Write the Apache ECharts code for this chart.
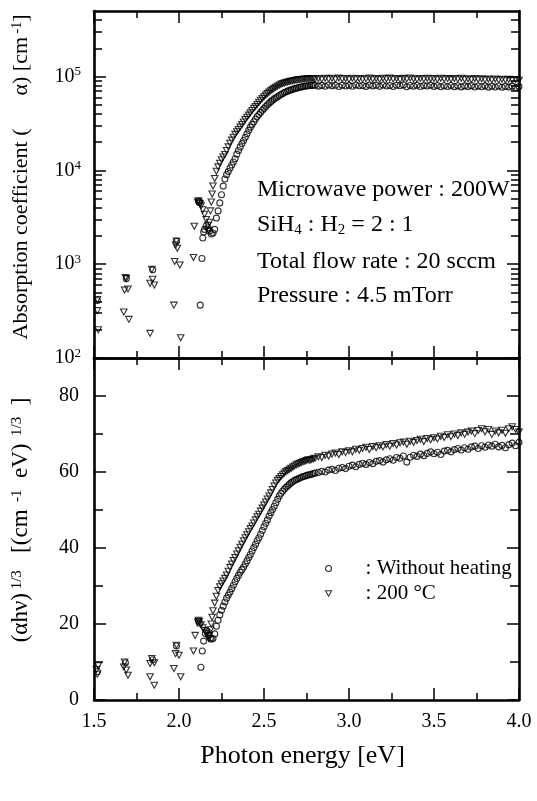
<!DOCTYPE html>
<html><head><meta charset="utf-8">
<script src="https://cdn.jsdelivr.net/npm/echarts@6/dist/echarts.min.js"></script>
<style>html,body{margin:0;padding:0;background:#fff}#c{width:537px;height:801px}</style>
</head><body><div id="c"></div>
<script>
// ---------------- DATA ----------------
// shared dense energy grid (eV)
const gridE = [2.20,2.21,2.22,2.23,2.24,2.25,2.26,2.27,2.28,2.29,2.30,2.31,2.32,2.33,2.34,2.35,2.36,2.37,2.38,2.39,2.40,
2.41,2.42,2.43,2.44,2.45,2.46,2.47,2.48,2.49,2.50,2.51,2.52,2.53,2.54,2.55,2.56,2.57,2.58,2.59,2.60,
2.61,2.62,2.63,2.64,2.65,2.66,2.67,2.68,2.69,2.70,2.71,2.72,2.73,2.74,2.75,2.76,2.77,2.78,2.79,2.80,
2.82,2.84,2.86,2.88,2.90,2.92,2.94,2.96,2.98,3.00,3.02,3.04,3.06,3.08,3.10,3.12,3.14,3.16,3.18,3.20,3.22,3.24,3.26,3.28,3.30,3.32,3.34,3.36,3.38,3.40,3.42,3.44,3.46,3.48,3.50,3.52,3.54,3.56,3.58,3.60,3.62,3.64,3.66,3.68,3.70,3.72,3.74,3.76,3.78,3.80,3.82,3.84,3.86,3.88,3.90,3.92,3.94,3.96,3.98,4.00];

// Top panel: absorption coefficient alpha [cm^-1]
// 200 °C (triangles): scattered low-energy points
const triTopLowE = [1.52,1.52,1.525,1.69,1.685,1.68,1.70,1.675,1.705,1.84,1.845,1.83,1.855,1.83,1.985,1.98,1.99,1.975,2.005,1.97,2.01,2.085,2.09,2.11,2.115,2.12,2.125,2.13,2.14,2.15,2.16,2.17,2.175,2.18,2.185,2.19,2.195];
const triTopLowA = [420,320,200,705,720,530,545,309,258,880,690,625,600,183,1770,1600,1480,1070,980,366,164,1180,2540,4600,4750,4500,4400,4200,3800,3400,3000,2600,2300,2800,3700,4600,5600];
const triTopA = [6800,8200,9800,10900,11900,13000,13900,14800,16300,17800,19500,21000,22600,24200,25800,27300,28900,30800,32800,34800,36900,
38800,41000,43500,45800,48000,50500,53200,55900,58400,61000,63600,66000,68300,70500,72700,74800,77000,79000,81000,82700,
84200,85500,86600,87500,88500,89300,90000,90800,91600,92200,92700,93200,93700,94000,94400,94600,95100,95000,94700,94200,
95500,93800,96000,94500,95800,93600,96300,94800,95200,93500,96100,94300,95600,93900,95000,96400,94100,95300,93700,95900,94600,96200,94000,95400,93300,95700,94400,96500,94900,93800,95600,94200,96000,94700,95300,93600,95800,94300,95100,93400,95500,94000,95900,93700,94800,92900,95200,93500,94600,92800,94300,92500,94000,92200,93700,91900,93300,91600,92800,91200];
// Without heating (circles)
const cirTopLowE = [1.52,1.69,1.845,1.985,2.115,2.12,2.125,2.135,2.14,2.145,2.15,2.16,2.17,2.18,2.19];
const cirTopLowA = [410,700,870,1750,4700,4550,366,1150,1900,2200,2350,2550,2450,2250,2100];
const cirTopA = [2150,2350,3100,3700,4500,5500,6800,8100,9000,9700,10600,11400,12300,13300,14900,16300,17800,19300,20800,22500,24500,
26700,28900,30900,33000,35300,37500,39400,41500,43700,45800,47900,50000,52000,54000,55900,57800,59400,61000,62800,64500,
66100,67500,68800,70000,71200,72300,73300,74300,75200,76000,76800,77500,78200,78800,79300,79800,80200,80500,80800,81000,
79000,80500,78800,81200,79600,80900,78500,81000,79300,80600,78900,81400,79800,80300,78600,81100,79500,80800,78700,81300,79200,80400,78400,80900,79700,81500,77800,80200,79000,80700,78300,80100,79400,81000,78600,80300,77900,79800,78500,80400,78100,79900,77600,79500,78200,80000,77400,79200,77900,79600,77100,78900,77500,79300,76800,78600,77200,79000,76500,78200];

// Bottom panel: (alpha h nu)^(1/3)
const triBotLowE = [1.515,1.52,1.525,1.68,1.675,1.69,1.70,1.84,1.83,1.855,1.83,1.855,1.985,1.98,2.00,1.97,2.01,2.085,2.095,2.11,2.115,2.12,2.13,2.14,2.15,2.16,2.17,2.175,2.18,2.185,2.19,2.195];
const triBotLowV = [8.0,6.8,9.0,10.0,8.7,7.9,6.5,10.9,9.6,9.8,6.1,3.9,14.4,12.2,11.8,8.3,6.1,12.9,17.0,20.5,21.0,20.6,19.8,19.0,18.3,17.6,16.8,16.2,17.0,18.5,20.0,21.8];
const triBotV = [23.5,25.5,27.3,28.8,29.8,30.6,31.3,32.0,32.9,33.9,34.9,35.8,36.7,37.5,38.4,39.3,40.2,41.0,41.9,42.7,43.5,
44.3,45.1,45.8,46.6,47.4,48.2,48.9,49.7,50.5,51.3,52.1,52.9,53.7,54.5,55.4,56.3,57.1,57.8,58.3,58.8,
59.3,59.7,60.1,60.4,60.7,61.0,61.3,61.6,61.9,62.1,62.3,62.5,62.7,62.8,63.0,63.2,63.1,63.3,63.5,63.6,
64.0,63.8,64.4,64.2,64.7,65.0,64.6,65.3,65.1,65.6,65.3,66.0,65.7,66.2,66.5,65.9,66.7,66.4,66.9,66.6,67.2,66.8,67.5,67.1,67.7,67.9,67.3,68.1,67.8,68.3,68.6,68.0,68.8,68.5,69.0,68.7,69.4,69.1,69.8,69.3,70.0,69.6,70.3,69.9,70.5,70.8,70.1,70.9,71.4,70.6,71.2,69.9,70.8,70.3,71.0,70.2,71.4,71.9,71.2,70.5];
const cirBotLowE = [1.52,1.685,1.845,1.985,2.115,2.12,2.129,2.137,2.145,2.155,2.165,2.175,2.185,2.19];
const cirBotLowV = [7.5,9.8,10.6,14.2,20.8,20.2,8.6,12.9,15.5,17.5,18.2,17.0,16.3,16.0];
const cirBotV = [16.2,17.4,19.4,21.0,22.4,23.6,24.7,25.8,26.8,27.6,28.4,29.3,30.2,31.1,32.0,32.8,33.6,34.3,35.0,35.8,36.6,
37.5,38.3,39.2,40.1,41.0,41.9,42.7,43.6,44.6,45.6,46.5,47.4,48.4,49.3,50.1,51.0,51.9,52.8,53.7,54.4,
55.0,55.5,56.0,56.4,56.8,57.2,57.5,57.8,58.0,58.2,58.4,58.6,58.8,58.9,59.1,59.2,59.3,59.4,59.6,59.7,
59.9,60.2,60.0,60.5,60.7,60.4,61.0,61.2,60.9,61.5,61.8,61.4,62.0,62.3,62.0,62.5,62.2,62.8,63.0,62.6,63.2,63.5,63.1,63.8,63.6,64.2,62.6,63.9,64.4,64.1,64.7,64.3,64.9,65.3,64.8,65.2,64.6,65.5,65.7,65.3,65.9,66.2,65.8,66.4,66.0,66.6,66.8,66.2,66.9,66.5,67.1,66.8,67.3,66.6,67.0,66.4,67.2,67.6,66.9,67.8];

// ticks
const logMajor = [100,1000,10000,100000];
const logMinor = [200,300,400,500,600,700,800,900,2000,3000,4000,5000,6000,7000,8000,9000,20000,30000,40000,50000,60000,70000,80000,90000,200000,300000,400000];
const linMajor = [0,20,40,60,80];
const linMinor = [10,30,50,70];

const seriesNames = ['Without heating','200 °C'];
const notes = ['Microwave power : 200W','{n|SiH}{sub|4}{n| : H}{sub|2}{n| = 2 : 1}','Total flow rate : 20 sccm','Pressure : 4.5 mTorr'];

// ---------------- BUILD ----------------
const FONT = 'Liberation Serif';
function pairs(lowE, lowV, vals){
  const out = [];
  lowE.forEach((e,i)=>out.push([e, lowV[i]]));
  gridE.forEach((e,i)=>out.push([e, vals[i]]));
  return out;
}
const LINE = {color:'#000', width:2.6};
const TICK = {color:'#000', width:1.5};
function xAx(gi, pos, lab){
  const a = {type:'value', gridIndex:gi, position:pos, min:1.5, max:4.0, interval:0.5,
    axisLine:{show:true, onZero:false, lineStyle:LINE},
    axisTick:{show:true, inside:true, length:12, lineStyle:TICK},
    minorTick:{show:true, splitNumber:2, length:7, lineStyle:TICK},
    splitLine:{show:false}, minorSplitLine:{show:false},
    axisLabel:{show:lab, formatter:v=>v.toFixed(1), color:'#000', fontFamily:FONT, fontSize:20, margin:12}};
  if (lab) { a.name='Photon energy [eV]'; a.nameLocation='middle'; a.nameGap=43;
    a.nameTextStyle={fontFamily:FONT, fontSize:26, color:'#000', padding:[0,8,0,0]}; }
  return a;
}
function yLog(pos, ticks, len, lab, line){
  return {type:'log', logBase:10, gridIndex:0, position:pos, min:100, max:500000,
    axisLine:{show:line, onZero:false, lineStyle:LINE},
    axisTick:{show:true, inside:true, length:len, lineStyle:TICK, customValues:ticks},
    minorTick:{show:false}, splitLine:{show:false},
    axisLabel:{show:lab, customValues:ticks, margin:13, color:'#000', fontFamily:FONT,
      formatter:v=>{const e=Math.log10(v); if(Math.abs(e-Math.round(e))>1e-6) return ''; return '{b|10}{s|'+Math.round(e)+'}';},
      rich:{b:{fontFamily:FONT, fontSize:20, color:'#000', lineHeight:22},
            s:{fontFamily:FONT, fontSize:13, color:'#000', verticalAlign:'top', lineHeight:13}}}};
}
function yLin(pos, ticks, len, lab, line){
  return {type:'value', gridIndex:1, position:pos, min:0, max:90,
    axisLine:{show:line, onZero:false, lineStyle:LINE},
    axisTick:{show:true, inside:true, length:len, lineStyle:TICK, customValues:ticks},
    minorTick:{show:false}, splitLine:{show:false},
    axisLabel:{show:lab, customValues:ticks, margin:15, color:'#000', fontFamily:FONT, fontSize:20}};
}
const hollow = {color:'rgba(0,0,0,0)', borderColor:'#000', borderWidth:1.1};
const triIcon = 'path://M0,0L10,0L5,9Z';
const option = {
  animation:false,
  backgroundColor:'#fff',
  grid:[{left:94, right:18, top:11, height:347},{left:94, right:18, top:358, height:342}],
  xAxis:[xAx(0,'bottom',false), xAx(0,'top',false), xAx(1,'top',false), xAx(1,'bottom',true)],
  yAxis:[yLog('left',logMajor,12,true,true), yLog('left',logMinor,8,false,false),
         yLog('right',logMajor,12,false,true), yLog('right',logMinor,8,false,false),
         yLin('left',linMajor,12,true,true), yLin('left',linMinor,9,false,false),
         yLin('right',linMajor,12,false,true), yLin('right',linMinor,9,false,false)],
  legend:{data:[{name:seriesNames[0], icon:'circle'},{name:seriesNames[1], icon:triIcon}],
    orient:'vertical', left:320, top:553, itemWidth:6, itemHeight:6, itemGap:4,
    itemStyle:hollow,
    formatter:n=>': '+n, textStyle:{fontFamily:FONT, fontSize:21, color:'#000', padding:[0,0,0,29]}},
  graphic:[
    {type:'text', x:21, y:177, rotation:Math.PI/2, style:{text:'Absorption coefficient (      α) [cm{sup| -1}]', align:'center', verticalAlign:'middle', fill:'#000',
      font:'22px "Liberation Serif"', rich:{sup:{fontSize:14, fontFamily:FONT, verticalAlign:'top', lineHeight:14}}}},
    {type:'text', x:21, y:520, rotation:Math.PI/2, style:{text:'(αhν){sup| 1/3}   [(cm{sup|  -1}  eV){sup|  1/3}  ]', align:'center', verticalAlign:'middle', fill:'#000',
      font:'23px "Liberation Serif"', rich:{sup:{fontSize:15, fontFamily:FONT, verticalAlign:'top', lineHeight:15}}}}
  ].concat(notes.map((t,i)=>({type:'text', x:257, y:[190,225,262,296][i], style:{text:t, verticalAlign:'middle', fill:'#000',
      font:'24px "Liberation Serif"', rich:{n:{fontFamily:FONT, fontSize:24, lineHeight:26}, sub:{fontFamily:FONT, fontSize:15, verticalAlign:'bottom', lineHeight:26}}}}))),
  series:[
    {name:seriesNames[0], type:'scatter', xAxisIndex:0, yAxisIndex:0, symbol:'circle', symbolSize:6, itemStyle:hollow, data:pairs(cirTopLowE,cirTopLowA,cirTopA)},
    {name:seriesNames[1], type:'scatter', xAxisIndex:0, yAxisIndex:0, symbol:'triangle', symbolRotate:180, symbolSize:[6.5,6], itemStyle:hollow, data:pairs(triTopLowE,triTopLowA,triTopA)},
    {name:seriesNames[0], type:'scatter', xAxisIndex:3, yAxisIndex:4, symbol:'circle', symbolSize:6, itemStyle:hollow, data:pairs(cirBotLowE,cirBotLowV,cirBotV)},
    {name:seriesNames[1], type:'scatter', xAxisIndex:3, yAxisIndex:4, symbol:'triangle', symbolRotate:180, symbolSize:[6.5,6], itemStyle:hollow, data:pairs(triBotLowE,triBotLowV,triBotV)}
  ]
};
const chart = echarts.init(document.getElementById('c'), null, {renderer:'canvas'});
chart.setOption(option);
</script></body></html>
